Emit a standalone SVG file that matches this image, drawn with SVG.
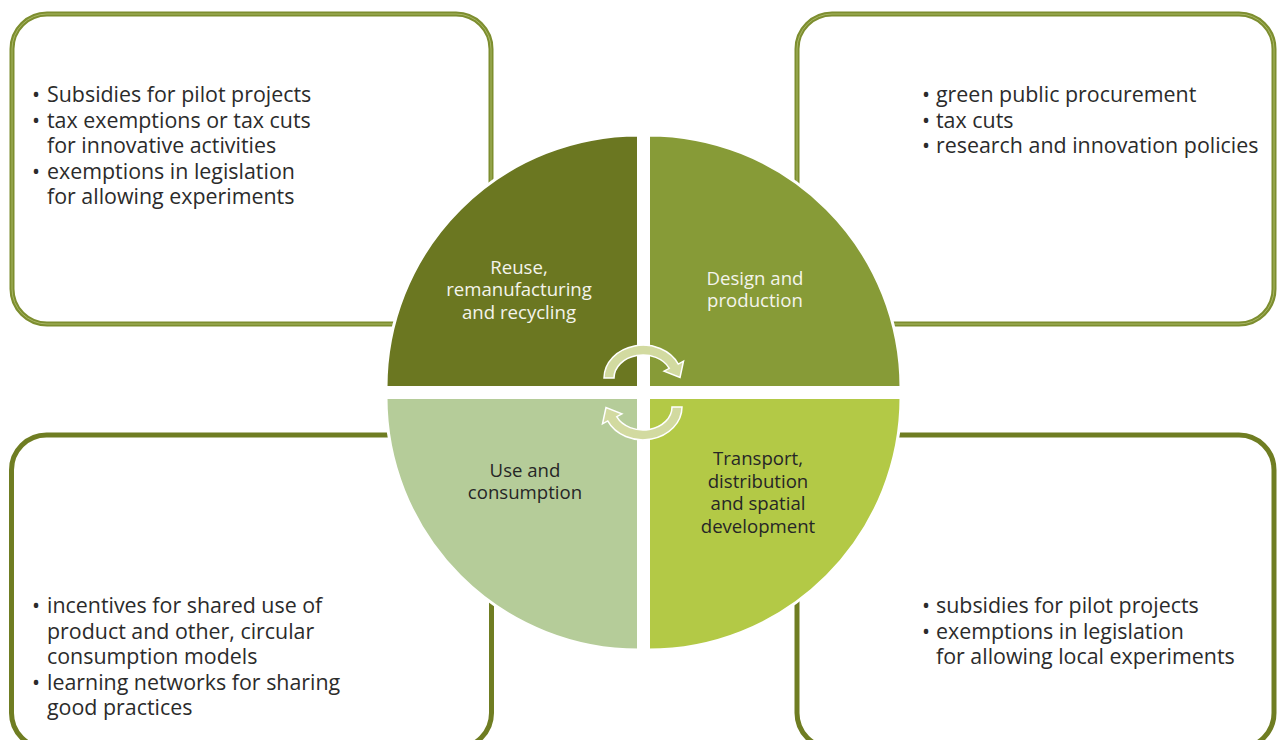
<svg xmlns="http://www.w3.org/2000/svg" width="1277" height="740" viewBox="0 0 1277 740">
<style>
.box{fill:#fff;stroke:#7d8e2f;stroke-width:5}
.boxin{fill:none;stroke:#a9b765;stroke-width:1}
.boxb{fill:#fff;stroke:#6f7d22;stroke-width:5}
.bt{font-family:"Open Sans","Liberation Sans",sans-serif;font-size:21.4px;fill:#2b2b2b}
.q{stroke:#fff;stroke-width:3}
.lw{font-family:"Open Sans","Liberation Sans",sans-serif;font-size:18.6px;fill:#f4f4ec;text-anchor:middle}
.ld{font-family:"Open Sans","Liberation Sans",sans-serif;font-size:18.6px;fill:#262626;text-anchor:middle}
.arr{fill:#d2daa0;stroke:#fff;stroke-width:1.5}
</style>
<rect width="1277" height="740" fill="#fff"/>
<g id="box-tl">
<rect class="box" x="12" y="14" width="479" height="310" rx="35"/>
<rect class="boxin" x="12" y="14" width="479" height="310" rx="35"/>
<text class="bt"><tspan x="32" y="102">•</tspan><tspan x="47" y="102">Subsidies for pilot projects</tspan><tspan x="32" y="127.5">•</tspan><tspan x="47" y="127.5">tax exemptions or tax cuts</tspan><tspan x="47" y="153">for innovative activities</tspan><tspan x="32" y="178.5">•</tspan><tspan x="47" y="178.5">exemptions in legislation</tspan><tspan x="47" y="204">for allowing experiments</tspan></text>
</g>
<g id="box-tr">
<rect class="box" x="797" y="14" width="477" height="310" rx="35"/>
<rect class="boxin" x="797" y="14" width="477" height="310" rx="35"/>
<text class="bt"><tspan x="922" y="102">•</tspan><tspan x="936" y="102">green public procurement</tspan><tspan x="922" y="127.5">•</tspan><tspan x="936" y="127.5">tax cuts</tspan><tspan x="922" y="153">•</tspan><tspan x="936" y="153">research and innovation policies</tspan></text>
</g>
<g id="box-bl">
<rect class="boxb" x="11.5" y="435" width="480" height="313" rx="35"/>
<text class="bt"><tspan x="32" y="613">•</tspan><tspan x="47" y="613">incentives for shared use of</tspan><tspan x="47" y="638.5">product and other, circular</tspan><tspan x="47" y="664">consumption models</tspan><tspan x="32" y="689.5">•</tspan><tspan x="47" y="689.5">learning networks for sharing</tspan><tspan x="47" y="715">good practices</tspan></text>
</g>
<g id="box-br">
<rect class="boxb" x="797" y="435" width="477" height="313" rx="35"/>
<text class="bt"><tspan x="922" y="613">•</tspan><tspan x="936" y="613">subsidies for pilot projects</tspan><tspan x="922" y="638.5">•</tspan><tspan x="936" y="638.5">exemptions in legislation</tspan><tspan x="936" y="664">for allowing local experiments</tspan></text>
</g>
<g id="q-reuse">
<path class="q" fill="#6b7721" d="M638.5,387.5 L386,387.5 A252.5,252.5 0 0 1 638.5,135 Z"/>
<text class="lw"><tspan x="519" y="273.5">Reuse,</tspan><tspan x="519" y="296">remanufacturing</tspan><tspan x="519" y="318.5">and recycling</tspan></text>
</g>
<g id="q-design">
<path class="q" fill="#879b37" d="M648.5,387.5 L648.5,135 A252.5,252.5 0 0 1 901,387.5 Z"/>
<text class="lw"><tspan x="755" y="285">Design and</tspan><tspan x="755" y="307">production</tspan></text>
</g>
<g id="q-transport">
<path class="q" fill="#b3c946" d="M648.5,397.5 L901,397.5 A252.5,252.5 0 0 1 648.5,650 Z"/>
<text class="ld"><tspan x="758" y="465">Transport,</tspan><tspan x="758" y="487.5">distribution</tspan><tspan x="758" y="510">and spatial</tspan><tspan x="758" y="532.5">development</tspan></text>
</g>
<g id="q-use">
<path class="q" fill="#b5cc99" d="M638.5,397.5 L638.5,650 A252.5,252.5 0 0 1 386,397.5 Z"/>
<text class="ld"><tspan x="525" y="477">Use and</tspan><tspan x="525" y="499">consumption</tspan></text>
</g>
<g id="connectors">
<path class="arr" d="M604,378 A39,33 0 0 1 678.3,364.1 L683.5,361.2 L680,377.5 L664.1,371.2 L669.3,368.3 A29,23 0 0 0 614,378 Z"/>
<path class="arr" transform="rotate(180 643 392.5)" d="M604,378 A39,33 0 0 1 678.3,364.1 L683.5,361.2 L680,377.5 L664.1,371.2 L669.3,368.3 A29,23 0 0 0 614,378 Z"/>
</g>
</svg>
